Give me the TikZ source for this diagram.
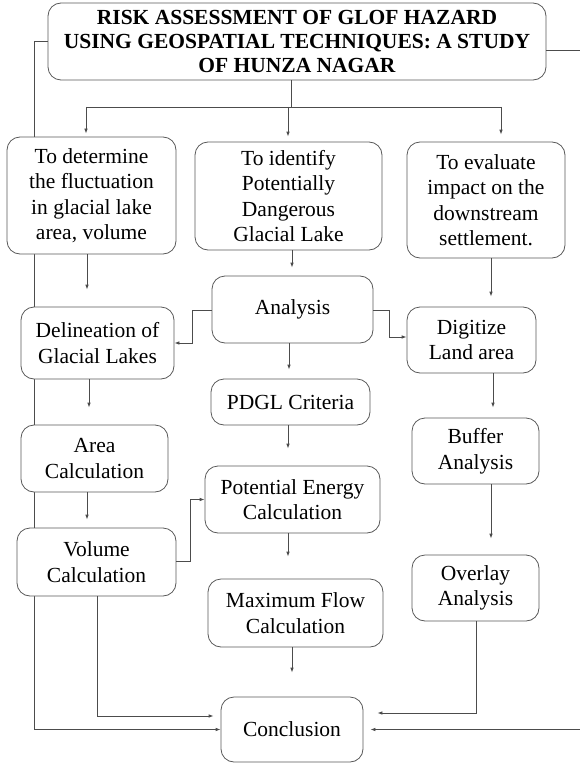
\documentclass[tikz,border=0pt]{standalone}
\usepackage{fontspec}
\setmainfont{Liberation Serif}
\usetikzlibrary{arrows.meta}
\pgfdeclarelayer{bg}
\pgfsetlayers{bg,main}
\begin{document}
\begin{tikzpicture}[x=1pt,y=-1pt,
  box/.style={draw=black!65, line width=0.8pt, rounded corners=13pt, fill=white,
    inner sep=0pt, align=center, font=\fontsize{21.5}{25.5}\selectfont},
  ln/.style={draw=black!70, line width=0.8pt},
  arr/.style={ln, -{Latex[length=5pt,width=3.6pt]}}]
\useasboundingbox (0,0) rectangle (579,765);
% boxes
\node[box, minimum width=498pt, minimum height=77pt, font=\bfseries\fontsize{21.5}{24}\selectfont] (title) at (297,41.5)
  {RISK ASSESSMENT OF GLOF HAZARD\\USING GEOSPATIAL TECHNIQUES: A STUDY\\OF HUNZA NAGAR};
\node[box, minimum width=169pt, minimum height=117pt] (A) at (91.5,195.5)
  {To determine\\the fluctuation\\in glacial lake\\area, volume};
\node[box, minimum width=187pt, minimum height=108pt] (B) at (288.5,196)
  {To identify\\Potentially\\Dangerous\\Glacial Lake};
\node[box, minimum width=158pt, minimum height=116pt] (C) at (486,200)
  {To evaluate\\impact on the\\downstream\\settlement.};
\node[box, minimum width=153pt, minimum height=72pt] (Delin) at (97.5,343)
  {Delineation of\\Glacial Lakes};
\node[box, minimum width=161pt, minimum height=67pt] (Analysis) at (292.5,309.5)
  {Analysis};
\node[box, minimum width=129pt, minimum height=66pt] (Digit) at (471.5,340)
  {Digitize\\Land area};
\node[box, minimum width=159pt, minimum height=46pt] (PDGL) at (290.5,402)
  {PDGL Criteria};
\node[box, minimum width=147pt, minimum height=67pt] (Area) at (94.5,458.5)
  {Area\\Calculation};
\node[box, minimum width=127pt, minimum height=66pt] (Buffer) at (475.5,451)
  {Buffer\\Analysis};
\node[box, minimum width=175pt, minimum height=67pt] (Pot) at (292.5,499.5)
  {Potential Energy\\Calculation};
\node[box, minimum width=159pt, minimum height=68pt] (Vol) at (96.5,562)
  {Volume\\Calculation};
\node[box, minimum width=175pt, minimum height=68pt] (Max) at (295.5,613)
  {Maximum Flow\\Calculation};
\node[box, minimum width=127pt, minimum height=66pt] (Over) at (475.5,588)
  {Overlay\\Analysis};
\node[box, minimum width=142pt, minimum height=65pt] (Conc) at (292,729.5)
  {Conclusion};
% outer left line, passing behind the left-column boxes
\begin{pgfonlayer}{bg}
\draw[arr] (title.west |- 0,41) -- (34,41) |- (Conc.west);
\end{pgfonlayer}
% top split
\coordinate (s0) at (291,107);
\coordinate (sA) at (86,107);
\coordinate (sB) at (288,107);
\coordinate (sC) at (501,107);
\draw[ln] (title.south -| s0) -- (s0);
\draw[ln] (sA) -- (sC);
\draw[arr, shorten >=3pt] (sA) -- (A.north -| sA);
\draw[arr, shorten >=5pt] (sB) -- (B.north -| sB);
\draw[arr, shorten >=7pt] (sC) -- (C.north -| sC);
% vertical arrows
\draw[arr, shorten >=17pt] (A.south -| 87,0) -- (Delin.north -| 87,0);
\draw[arr, shorten >=8pt] (B.south -| 292,0) -- (Analysis.north -| 292,0);
\draw[arr, shorten >=10pt] (C.south -| 491,0) -- (Digit.north -| 491,0);
\draw[arr, shorten >=17pt] (Delin.south -| 89,0) -- (Area.north -| 89,0);
\draw[arr, shorten >=9pt] (Analysis.south -| 289,0) -- (PDGL.north -| 289,0);
\draw[arr, shorten >=10pt] (Digit.south -| 493,0) -- (Buffer.north -| 493,0);
\draw[arr, shorten >=17pt] (PDGL.south -| 288,0) -- (Pot.north -| 288,0);
\draw[arr, shorten >=8pt] (Area.south -| 87,0) -- (Vol.north -| 87,0);
\draw[arr, shorten >=16pt] (Buffer.south -| 491,0) -- (Over.north -| 491,0);
\draw[arr, shorten >=22pt] (Pot.south -| 288,0) -- (Max.north -| 288,0);
\draw[arr, shorten >=24pt] (Max.south -| 292,0) -- (Conc.north -| 292,0);
% elbow connectors
\draw[arr] (Analysis.west |- 0,310) -- ++(-19,0) |- (Delin.east);
\draw[arr] (Analysis.east |- 0,310) -- ++(16,0) |- (Digit.west |- 0,337);
\draw[arr] (Vol.east |- 0,561) -- ++(14,0) |- (Pot.west);
\draw[arr, shorten >=7pt] (Vol.south -| 97,0) |- (Conc.west |- 0,716);
\draw[arr, shorten >=14pt] (Over.south -| 476,0) |- (Conc.east |- 0,713);
\draw[arr, shorten >=7pt] (title.east |- 0,50) -- (582,50) |- (Conc.east);
\end{tikzpicture}
\end{document}
